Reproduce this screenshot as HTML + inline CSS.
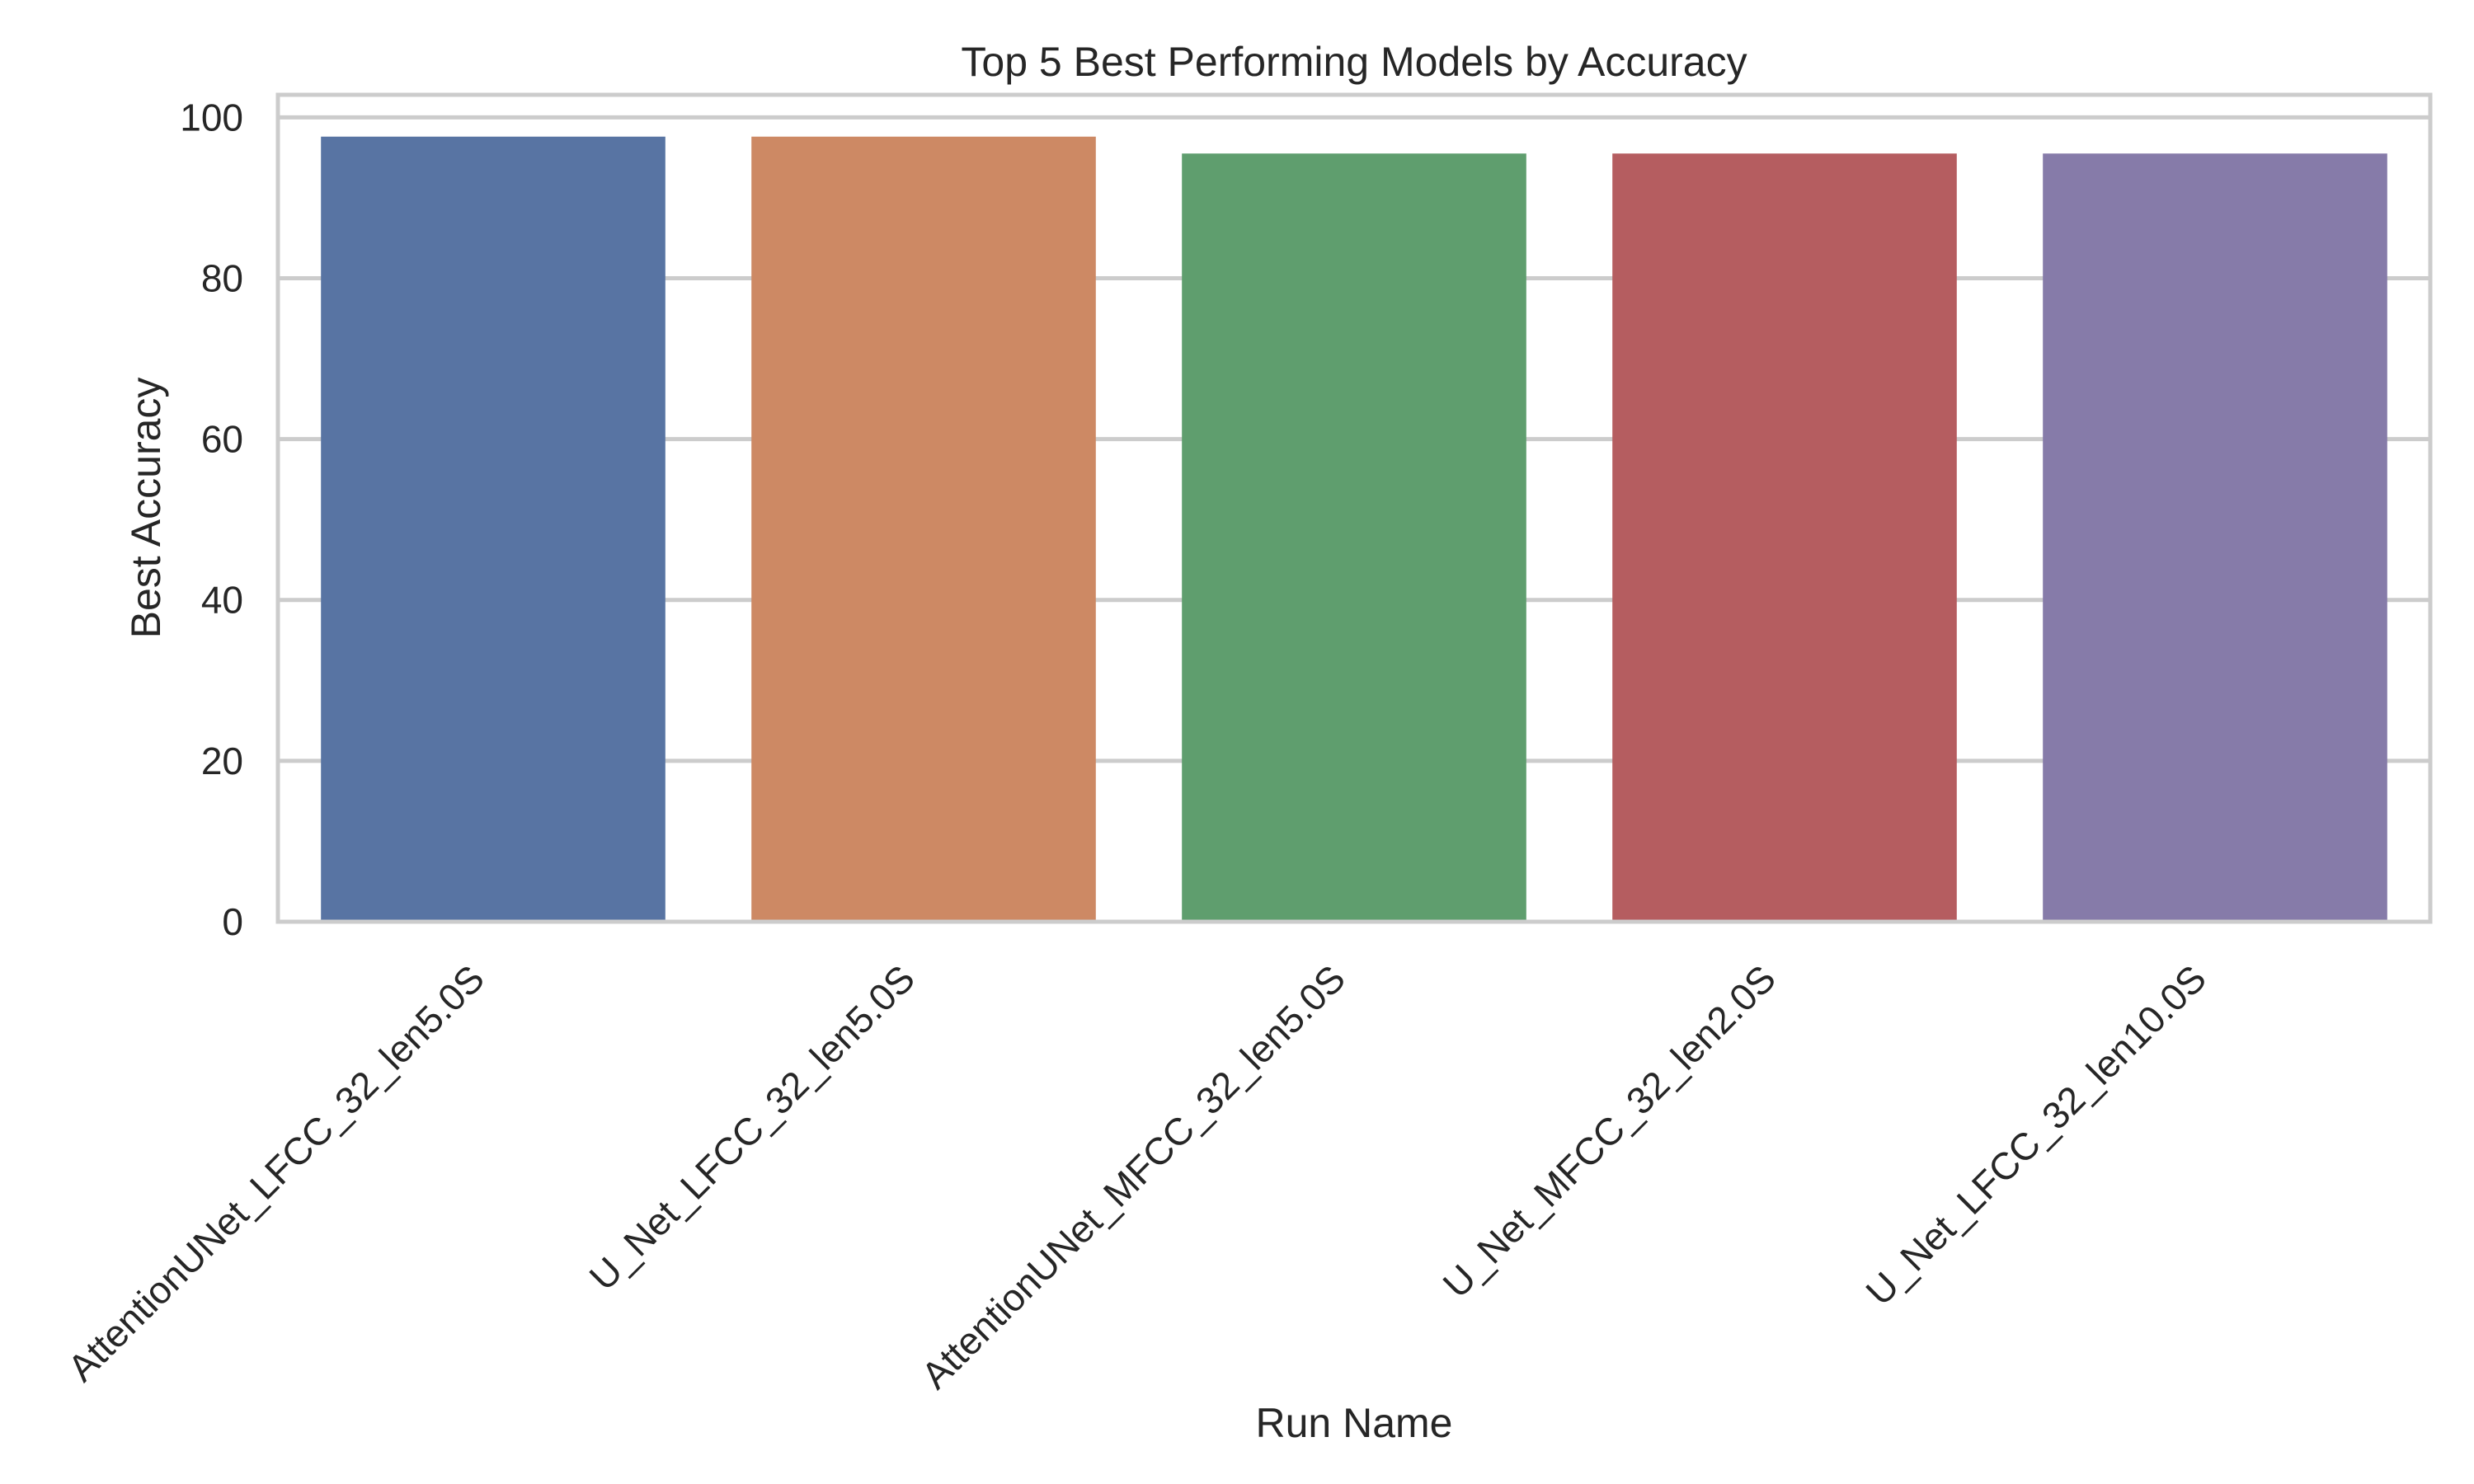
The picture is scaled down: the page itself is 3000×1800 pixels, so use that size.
<!DOCTYPE html>
<html><head><meta charset="utf-8"><style>
html,body{margin:0;padding:0;background:#fff}
svg{display:block;font-family:"Liberation Sans",Arial,sans-serif}
</style></head><body>
<svg id="chart" width="3000" height="1800" viewBox="0 0 3000 1800">
<rect width="3000" height="1800" fill="#fff"/>
<g id="grid"></g><g id="bars"></g>
<rect x="337" y="115" width="2610" height="1003" fill="none" stroke="#cccccc" stroke-width="5"/>
<g id="yticks"></g><g id="xticks"></g>
<text x="1642" y="92" text-anchor="middle" font-size="50" fill="#262626">Top 5 Best Performing Models by Accuracy</text>
<text x="0" y="0" transform="translate(194,616) rotate(-90)" text-anchor="middle" font-size="50" fill="#262626">Best Accuracy</text>
<text x="1642" y="1743" text-anchor="middle" font-size="50" fill="#262626">Run Name</text>
</svg>
<script>
const categories=["AttentionUNet_LFCC_32_len5.0S","U_Net_LFCC_32_len5.0S","AttentionUNet_MFCC_32_len5.0S","U_Net_MFCC_32_len2.0S","U_Net_LFCC_32_len10.0S"];
const values=[97.6,97.6,95.5,95.5,95.5];
const colors=["#5874a3","#cd8964","#5f9e6e","#b55d60","#867ba9"];
const yTicks=[0,20,40,60,80,100];
const ns="http://www.w3.org/2000/svg";
const L=337,R=2947,T=115,B=1118,YMAX=102.8;
const y=v=>B-(v/YMAX)*(B-T);
const band=(R-L)/categories.length;
const xc=i=>L+band*(i+0.5);
function mk(t,a){const e=document.createElementNS(ns,t);for(const k in a)e.setAttribute(k,a[k]);return e;}
const grid=document.getElementById('grid'),bars=document.getElementById('bars'),yt=document.getElementById('yticks'),xt=document.getElementById('xticks');
yTicks.forEach(v=>{
  const g=mk('line',{x1:L,x2:R,y1:y(v),y2:y(v),stroke:'#cccccc','stroke-width':5});
  
  
  grid.appendChild(g);
  const t=mk('text',{x:L-42,y:y(v)+16,'text-anchor':'end','font-size':46,fill:'#262626'});
  t.textContent=v;
  
  
  yt.appendChild(t);
});
categories.forEach((c,i)=>{
  const w=band*0.8;
  const r=mk('rect',{x:xc(i)-w/2,y:y(values[i]),width:w,height:B-y(values[i]),fill:colors[i]});
  
  
  bars.appendChild(r);
  const t=mk('text',{x:0,y:0,transform:`translate(${xc(i)-8},1190) rotate(-45)`,'text-anchor':'end','font-size':46,fill:'#262626'});
  t.textContent=c;
  
  
  xt.appendChild(t);
});
</script>
</body></html>
